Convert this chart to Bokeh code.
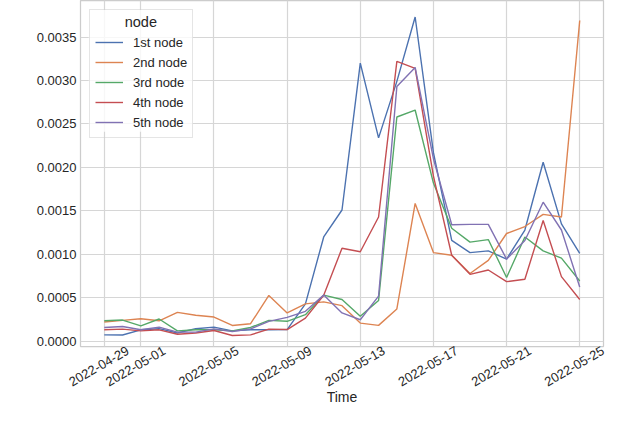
import math
import pandas as pd
from bokeh.plotting import figure
from bokeh.models import (FixedTicker, DatetimeTickFormatter, NumeralTickFormatter,
                          DatetimeAxis, Range1d, Legend, LegendItem, Label,
                          BoxAnnotation)
from bokeh.embed import file_html
from bokeh.resources import INLINE

# ---------------- data ----------------
start_date = "2022-04-29"
end_date = "2022-05-25"
dates = pd.date_range(start_date, end_date, freq="D")

node_names = ["1st node", "2nd node", "3rd node", "4th node", "5th node"]

first_node = [0.000074, 0.000072, 0.000132, 0.000145, 0.000095, 0.000145, 0.000163,
              0.000120, 0.000132, 0.000132, 0.000135, 0.000430, 0.001200, 0.001510,
              0.003200, 0.002340, 0.002990, 0.003730, 0.002170, 0.001160, 0.001020,
              0.001040, 0.000945, 0.001280, 0.002060, 0.001350, 0.001010]
second_node = [0.000221, 0.000240, 0.000260, 0.000236, 0.000333, 0.000300, 0.000279,
               0.000182, 0.000202, 0.000527, 0.000326, 0.000430, 0.000453, 0.000410,
               0.000209, 0.000183, 0.000372, 0.001585, 0.001020, 0.000990, 0.000780,
               0.000930, 0.001240, 0.001320, 0.001460, 0.001430, 0.003690]
third_node = [0.000236, 0.000244, 0.000178, 0.000256, 0.000120, 0.000132, 0.000132,
              0.000120, 0.000159, 0.000240, 0.000230, 0.000306, 0.000531, 0.000480,
              0.000287, 0.000469, 0.002580, 0.002660, 0.001820, 0.001300, 0.001140,
              0.001170, 0.000733, 0.001200, 0.001040, 0.000957, 0.000694]
fourth_node = [0.000132, 0.000140, 0.000120, 0.000132, 0.000081, 0.000095, 0.000124,
               0.000066, 0.000074, 0.000140, 0.000135, 0.000267, 0.000530, 0.001070,
               0.001030, 0.001430, 0.003220, 0.003140, 0.001900, 0.000990, 0.000770,
               0.000820, 0.000686, 0.000713, 0.001390, 0.000744, 0.000480]
fifth_node = [0.000159, 0.000170, 0.000132, 0.000163, 0.000105, 0.000105, 0.000143,
              0.000112, 0.000143, 0.000229, 0.000275, 0.000345, 0.000531, 0.000326,
              0.000248, 0.000520, 0.002930, 0.003150, 0.002100, 0.001340, 0.001345,
              0.001345, 0.000945, 0.001160, 0.001600, 0.001280, 0.000624]

series = [first_node, second_node, third_node, fourth_node, fifth_node]
colors = ["#4c72b0", "#dd8452", "#55a868", "#c44e52", "#8172b3"]

x_tick_labels = ["2022-04-29", "2022-05-01", "2022-05-05", "2022-05-09",
                 "2022-05-13", "2022-05-17", "2022-05-21", "2022-05-25"]
y_ticks = [0.0, 0.0005, 0.0010, 0.0015, 0.0020, 0.0025, 0.0030, 0.0035]

# ---------------- figure ----------------
FONT = "Liberation Sans"
TXT = "#262626"
Y_START, Y_END = -0.00006, 0.00392

pad = pd.Timedelta(days=1.3)
x_start, x_end = dates[0] - pad, dates[-1] + pad
p = figure(width=610, height=407, output_backend="svg", toolbar_location=None,
           x_axis_type="datetime",
           x_range=Range1d(x_start, x_end),
           y_range=Range1d(Y_START, Y_END),
           min_border_left=80, min_border_right=7, min_border_top=0,
           min_border_bottom=55)

p.background_fill_color = "white"
p.border_fill_color = "white"
p.outline_line_color = "#cccccc"
p.outline_line_width = 1.25

renderers = []
for vals, col in zip(series, colors):
    r = p.line(dates, vals, line_color=col, line_width=1.4)
    renderers.append(r)

tick_ms = [pd.Timestamp(d).value // 10**6 for d in x_tick_labels]

# main x axis only carries the grid; labels come from a shifted axis so that
# rotated labels are centred on their ticks (matplotlib style)
p.xaxis.visible = False
shift = pd.Timedelta(days=1.28)
p.extra_x_ranges = {"labels": Range1d(x_start - shift, x_end - shift)}
fmt = "%Y-%m-%d"
xaxis = DatetimeAxis(
    x_range_name="labels",
    ticker=FixedTicker(ticks=tick_ms),
    formatter=DatetimeTickFormatter(
        microseconds=fmt, milliseconds=fmt, seconds=fmt, minsec=fmt, minutes=fmt,
        hourmin=fmt, hours=fmt, days=fmt, months=fmt, years=fmt),
    major_label_orientation=math.pi / 6,
    axis_label="Time")
p.add_layout(xaxis, "below")

p.yaxis.ticker = FixedTicker(ticks=y_ticks)
p.yaxis.formatter = NumeralTickFormatter(format="0.0000")

for ax in (xaxis, p.yaxis[0]):
    ax.axis_line_color = None
    ax.major_tick_line_color = None
    ax.minor_tick_line_color = None
    ax.major_tick_in = 0
    ax.major_tick_out = 0
    ax.major_label_text_font = FONT
    ax.major_label_text_font_size = "13px"
    ax.major_label_text_color = TXT
    ax.axis_label_text_font = FONT
    ax.axis_label_text_font_size = "14px"
    ax.axis_label_text_font_style = "normal"
    ax.axis_label_text_color = TXT

xaxis.major_label_standoff = 3
xaxis.axis_label_standoff = -5
p.yaxis.major_label_standoff = 4
p.yaxis.axis_label_standoff = 4

p.xgrid.ticker = FixedTicker(ticks=tick_ms)
p.ygrid.ticker = FixedTicker(ticks=y_ticks)
for g in (p.xgrid, p.ygrid):
    g.grid_line_color = "#d6d6d6"
    g.grid_line_width = 1.2

# semi-transparent backing for the legend (in data units)
day = pd.Timedelta(days=1)
legend_bg = BoxAnnotation(left=dates[0] - 0.85 * day, right=dates[0] + 4.85 * day,
                          top=0.00381, bottom=0.00241,
                          fill_color="white", fill_alpha=0.8, line_color=None,
                          level="glyph")
p.add_layout(legend_bg)

# legend
legend = Legend(
    items=[LegendItem(label=n, renderers=[r]) for n, r in zip(node_names, renderers)],
    location="top_left", title=" ",
    title_text_font=FONT, title_text_font_size="14px", title_standoff=1,
    label_text_font=FONT, label_text_font_size="13px", label_text_color=TXT,
    glyph_width=28, glyph_height=20, label_height=20, label_standoff=10, spacing=0,
    padding=5, margin=9,
    border_line_color="#cccccc", border_line_width=1,
    background_fill_alpha=0)
p.add_layout(legend)

title_label = Label(x=pd.Timestamp("2022-05-01").value // 10**6, y=0.00367,
                    text="node", text_font=FONT, text_font_size="14.5px",
                    text_color=TXT, text_align="center", text_baseline="middle")
p.add_layout(title_label)

open("out.html", "w").write(file_html(p, INLINE))
